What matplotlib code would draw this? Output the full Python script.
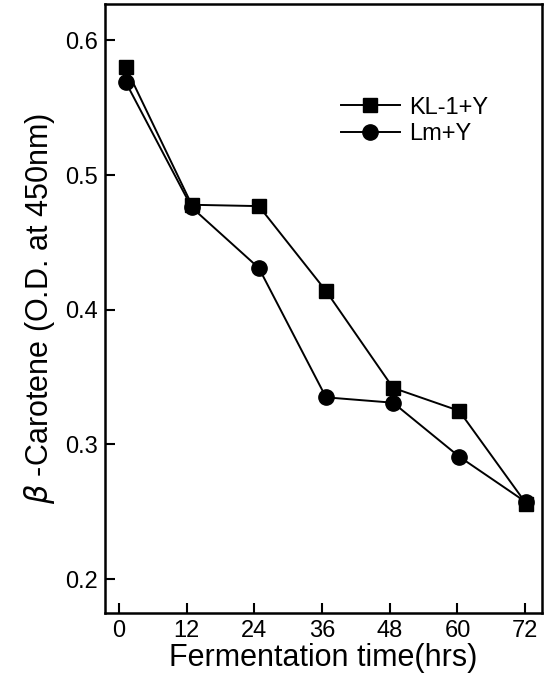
import matplotlib
matplotlib.use('Agg')
import matplotlib.pyplot as plt

# data
hours = [1.2, 12.9, 24.8, 36.7, 48.6, 60.3, 72.2]
kl1_y = [0.580, 0.478, 0.477, 0.414, 0.342, 0.325, 0.256]
lm_y = [0.569, 0.476, 0.431, 0.335, 0.331, 0.291, 0.257]
xticks = [0, 12, 24, 36, 48, 60, 72]
yticks = [0.2, 0.3, 0.4, 0.5, 0.6]

plt.rcParams['font.family'] = ['Liberation Sans', 'DejaVu Sans']

fig = plt.figure(figsize=(5.52, 6.87), dpi=100)
ax = fig.add_axes([0.190, 0.108, 0.792, 0.886])

ax.plot(hours, kl1_y, marker='s', color='black', lw=1.4, ms=9.5, label='KL-1+Y')
ax.plot(hours, lm_y, marker='o', color='black', lw=1.4, ms=11, label='Lm+Y')

ax.set_xlim(-2.5, 75)
ax.set_ylim(0.175, 0.627)
ax.set_xticks(xticks)
ax.set_yticks(yticks)
ax.set_yticklabels(['%.1f' % v for v in yticks])
ax.tick_params(direction='in', length=7, width=1.5, labelsize=17, pad=5)

for s in ax.spines.values():
    s.set_linewidth(1.8)

ax.set_xlabel('Fermentation time(hrs)', fontsize=22, labelpad=1)
ax.set_ylabel(r'$\beta$ -Carotene (O.D. at 450nm)', fontsize=22, labelpad=6)

ax.legend(loc='upper left', bbox_to_anchor=(0.54, 0.848), frameon=False,
          fontsize=17, handlelength=2.5, handletextpad=0.4, labelspacing=0.2,
          borderpad=0, borderaxespad=0)

fig.savefig('out.png', dpi=100, facecolor='white')
